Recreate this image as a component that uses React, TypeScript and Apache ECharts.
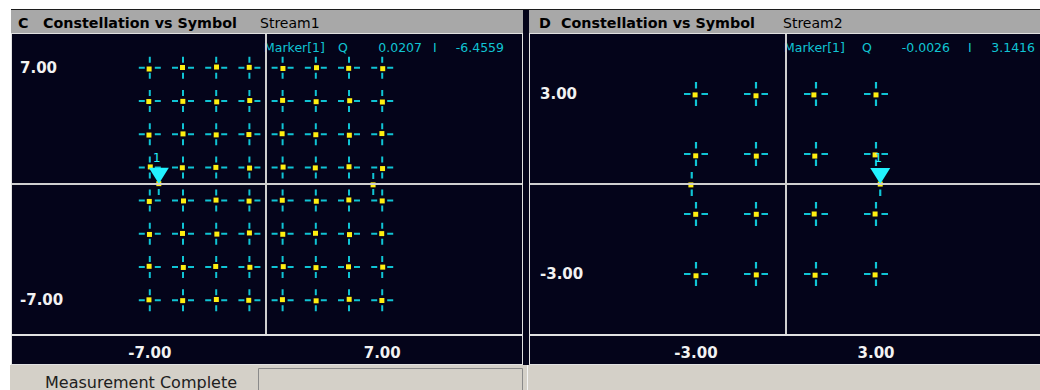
import React, { useEffect, useRef } from "react";
import * as echarts from "echarts";

// ---------- data ----------
const levels64 = [-7, -5, -3, -1, 1, 3, 5, 7];
const levels16 = [-3, -1, 1, 3];
const pilots64 = [-6.46, 6.46];
const pilots16 = [-3.1416, 3.1416];

const measured64: [number, number][] = [
  [-7.04, 6.93], [-5.03, 7.02], [-2.98, 7.05], [-1.01, 7.03], [1.02, 6.96], [3.04, 7.01], [4.98, 6.97], [7.03, 6.95],
  [-7.06, 4.97], [-5.01, 4.98], [-2.97, 4.95], [-0.98, 5.03], [1.0, 5.04], [3.02, 4.96], [5.04, 5.02], [7.01, 4.94],
  [-7.05, 2.95], [-5.0, 3.02], [-3.0, 2.96], [-1.03, 2.98], [0.97, 3.03], [3.0, 2.97], [5.02, 2.94], [6.98, 3.04],
  [-6.97, 1.03], [-5.04, 0.98], [-3.02, 1.0], [-0.99, 0.96], [1.03, 1.02], [2.97, 0.97], [5.0, 1.04], [7.02, 0.93],
  [-7.03, -1.05], [-4.97, -1.02], [-3.01, -0.97], [-1.02, -1.03], [0.98, -0.98], [3.03, -1.04], [4.99, -0.96], [7.0, -1.02],
  [-7.02, -3.04], [-5.03, -2.98], [-2.96, -3.02], [-1.0, -2.95], [1.01, -3.03], [2.98, -2.97], [5.03, -3.05], [6.97, -2.99],
  [-7.04, -4.96], [-4.98, -5.03], [-3.03, -4.97], [-0.97, -5.02], [1.04, -4.98], [3.01, -5.04], [4.97, -4.99], [7.03, -5.01],
  [-7.05, -6.98], [-5.02, -7.03], [-2.99, -6.96], [-1.04, -7.01], [0.99, -6.97], [3.02, -7.04], [5.01, -6.95], [6.98, -7.02],
  [-6.4559, 0.0207], [6.45, -0.05],
];

const measured16: [number, number][] = [
  [-3.03, 2.97], [-1.0, 2.94], [0.93, 2.97], [3.0, 2.97],
  [-3.01, 0.94], [-0.99, 0.93], [0.96, 0.93], [2.97, 0.97],
  [-3.01, -1.01], [-0.99, -1.01], [0.94, -1.0], [2.97, -1.0],
  [-3.0, -3.06], [-0.99, -3.03], [0.97, -3.04], [2.97, -3.03],
  [-3.17, -0.03], [3.1416, -0.0026],
];

const marker64 = { i: -6.4559, q: 0.0207 };
const marker16 = { i: 3.1416, q: -0.0026 };

const xTicks64 = [-7, 7];
const yTicks64 = [-7, 7];
const xTicks16 = [-3, 3];
const yTicks16 = [-3, 3];

const titles = ["C", "D"];
const traceNames = ["Stream1", "Stream2"];
const measName = "Constellation vs Symbol";
const statusText = "Measurement Complete";

// ---------- styles ----------
const BG = "#04041a";
const HEADER = "#a8a8a8";
const BORDER = "#e2e2e2";
const CYAN = "#10c4d4";
const MARK = "#22f2ff";
const YELLOW = "#ffee10";
const FONT = "DejaVu Sans";

const CROSS = "path://M0 10H6V12H0Z M16 10H22V12H16Z M10 0H12V6H10Z M10 16H12V22H10Z";
const TRI = "path://M0 0L20 0L10 16Z";

function idealPoints(levels: number[], pilots: number[]) {
  const pts: [number, number][] = [];
  for (let r = levels.length - 1; r >= 0; r--) {
    for (let c = 0; c < levels.length; c++) pts.push([levels[c], levels[r]]);
  }
  pilots.forEach((p) => pts.push([p, 0]));
  return pts;
}

function fmt(v: number) {
  return v.toFixed(4);
}

export default function App() {
  const ref = useRef<HTMLDivElement>(null);
  useEffect(() => {
    if (!ref.current) return;
    const chart = echarts.init(ref.current, undefined, { renderer: "svg" });

    const axisLabelStyle = {
      color: "#f2f2f2",
      fontFamily: FONT,
      fontWeight: "bold" as const,
      fontSize: 15,
      formatter: (v: number) => v.toFixed(2),
    };

    const makeX = (idx: number, min: number, max: number, ticks: number[]) => ({
      type: "value",
      gridIndex: idx,
      min,
      max,
      z: 10,
      axisLine: { show: false, onZero: false },
      axisTick: { show: false },
      splitLine: { show: false },
      axisLabel: { ...axisLabelStyle, customValues: ticks, margin: 11 },
    });
    const makeY = (idx: number, min: number, max: number, ticks: number[], margin: number) => ({
      type: "value",
      gridIndex: idx,
      min,
      max,
      z: 10,
      axisLine: { show: false, onZero: false },
      axisTick: { show: false },
      splitLine: { show: false },
      axisLabel: { ...axisLabelStyle, customValues: ticks, inside: true, margin },
    });

    const centerSeries = (idx: number) => ({
      type: "scatter",
      xAxisIndex: idx,
      yAxisIndex: idx,
      data: [],
      z: 1,
      silent: true,
      markLine: {
        silent: true,
        symbol: ["none", "none"],
        label: { show: false },
        lineStyle: { color: "#cfcfcf", width: 2, type: "solid" },
        data: [{ xAxis: 0 }, { yAxis: 0 }],
      },
    });

    const crossSeries = (idx: number, pts: [number, number][], size: number) => ({
      type: "scatter",
      xAxisIndex: idx,
      yAxisIndex: idx,
      data: pts,
      symbol: CROSS,
      symbolSize: size,
      itemStyle: { color: CYAN, opacity: 1 },
      z: 2,
      silent: true,
    });

    const measSeries = (idx: number, pts: [number, number][]) => ({
      type: "scatter",
      xAxisIndex: idx,
      yAxisIndex: idx,
      data: pts,
      symbol: "rect",
      symbolSize: 5,
      itemStyle: { color: YELLOW, opacity: 1 },
      z: 3,
      silent: true,
    });

    const markerSeries = (idx: number, m: { i: number; q: number }) => ({
      type: "scatter",
      xAxisIndex: idx,
      yAxisIndex: idx,
      data: [[m.i, m.q]],
      symbol: TRI,
      symbolSize: [20, 16],
      symbolOffset: [0, -8],
      itemStyle: { color: MARK, opacity: 1 },
      z: 4,
      silent: true,
      label: {
        show: true,
        formatter: "1",
        position: "top",
        distance: 4,
        offset: [-2, 0],
        color: MARK,
        fontFamily: FONT,
        fontSize: 12,
      },
    });

    const txt = (
      text: string,
      x: number,
      y: number,
      opts: { size?: number; weight?: string; color?: string; align?: string } = {}
    ) => ({
      type: "text",
      z: 1,
      style: {
        text,
        x,
        y,
        fill: opts.color || "#000000",
        fontFamily: FONT,
        fontSize: opts.size || 13,
        fontWeight: opts.weight || "normal",
        align: opts.align || "left",
        verticalAlign: "middle",
      },
    });

    const rect = (x: number, y: number, w: number, h: number, fill: string, extra: any = {}) => ({
      type: "rect",
      z: 0,
      shape: { x, y, width: w, height: h },
      style: { fill, ...extra },
    });

    const graphic = [
      rect(11, 9, 1029, 1, "#1c1c1c"),
      rect(523, 10, 6, 355, BG),
      rect(11, 33, 512, 332, BORDER),
      rect(12, 34, 510, 300, BG),
      rect(12, 336, 510, 28, BG),
      rect(529, 33, 511, 332, BORDER),
      rect(530, 34, 510, 300, BG),
      rect(530, 336, 510, 28, BG),
      rect(11, 10, 512, 23, HEADER),
      rect(529, 10, 511, 23, HEADER),
      rect(10, 365, 1030, 25, "#d4d0c8"),
      rect(258.5, 368.5, 264, 24, "#d4d0c8", { stroke: "#8a8a8a", lineWidth: 1 }),
      rect(527, 365, 1, 25, "#f4f4f4"),
      // headers
      txt(titles[0], 18, 23, { weight: "bold", size: 14.3 }),
      txt(measName, 43, 23, { weight: "bold", size: 14.3 }),
      txt(traceNames[0], 260, 23, { size: 14 }),
      txt(titles[1], 539, 23, { weight: "bold", size: 14.3 }),
      txt(measName, 561, 23, { weight: "bold", size: 14.3 }),
      txt(traceNames[1], 783, 23, { size: 14 }),
      // marker readouts
      txt("Marker[1]", 264, 47, { color: CYAN, size: 12.5 }),
      txt("Q", 338, 47, { color: CYAN, size: 12.5 }),
      txt(fmt(marker64.q), 422, 47, { color: CYAN, size: 12.5, align: "right" }),
      txt("I", 433, 47, { color: CYAN, size: 12.5 }),
      txt(fmt(marker64.i), 504, 47, { color: CYAN, size: 12.5, align: "right" }),
      txt("Marker[1]", 784, 47, { color: CYAN, size: 12.5 }),
      txt("Q", 862, 47, { color: CYAN, size: 12.5 }),
      txt(fmt(marker16.q), 950, 47, { color: CYAN, size: 12.5, align: "right" }),
      txt("I", 968, 47, { color: CYAN, size: 12.5 }),
      txt(fmt(marker16.i), 1035, 47, { color: CYAN, size: 12.5, align: "right" }),
      // status
      txt(statusText, 45, 382, { size: 16, color: "#202020" }),
    ];

    chart.setOption({
      animation: false,
      backgroundColor: "#ffffff",
      graphic,
      grid: [
        { left: 12, top: 34, width: 510, height: 300, outerBoundsMode: "none", containLabel: false },
        { left: 530, top: 34, width: 510, height: 300, outerBoundsMode: "none", containLabel: false },
      ],
      xAxis: [makeX(0, -15.3, 15.42, xTicks64), makeX(1, -8.533, 8.467, xTicks16)],
      yAxis: [makeY(0, -9.04, 9.04, yTicks64, 8), makeY(1, -5, 5, yTicks16, 10)],
      series: [
        centerSeries(0),
        crossSeries(0, idealPoints(levels64, pilots64), 22),
        measSeries(0, measured64),
        markerSeries(0, marker64),
        centerSeries(1),
        crossSeries(1, idealPoints(levels16, pilots16), 24),
        measSeries(1, measured16),
        markerSeries(1, marker16),
      ],
    });

    return () => chart.dispose();
  }, []);

  return (
    <div
      ref={ref}
      style={{ position: "fixed", left: 0, top: 0, width: 1040, height: 390 }}
    />
  );
}
